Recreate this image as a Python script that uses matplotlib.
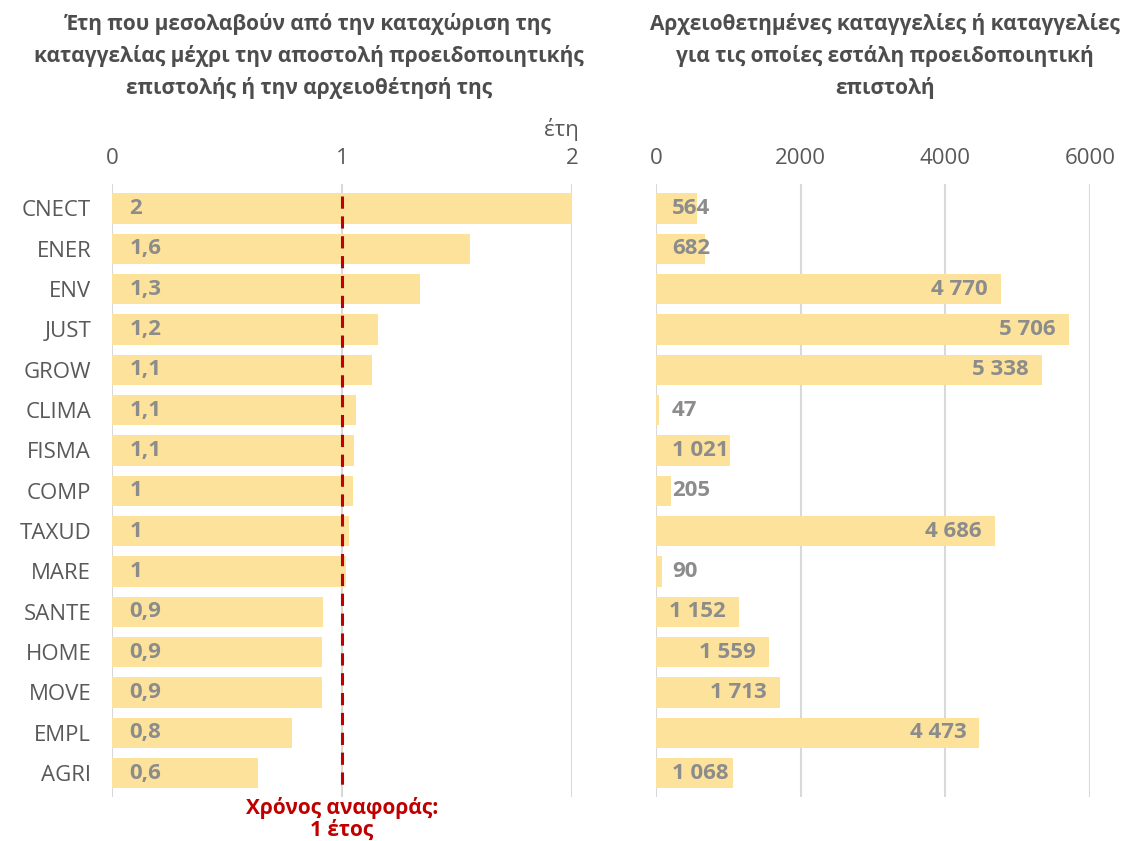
import matplotlib
matplotlib.use("Agg")
import matplotlib.pyplot as plt

plt.rcParams['font.family'] = ['Open Sans', 'DejaVu Sans']

categories = ['CNECT', 'ENER', 'ENV', 'JUST', 'GROW', 'CLIMA', 'FISMA', 'COMP',
              'TAXUD', 'MARE', 'SANTE', 'HOME', 'MOVE', 'EMPL', 'AGRI']
years = [2.0, 1.556, 1.339, 1.157, 1.13, 1.06, 1.052, 1.048, 1.03, 1.017,
         0.917, 0.913, 0.913, 0.783, 0.635]
years_labels = ['2', '1,6', '1,3', '1,2', '1,1', '1,1', '1,1', '1', '1', '1',
                '0,9', '0,9', '0,9', '0,8', '0,6']
cases = [564, 682, 4770, 5706, 5338, 47, 1021, 205, 4686, 90, 1152, 1559, 1713, 4473, 1068]

bar_col = '#FCE29B'
lab_col = '#8C8C8C'
txt_col = '#595959'
grid_col = '#D9D9D9'
red = '#C00000'
fs = 16

fig = plt.figure(figsize=(11.27, 8.41), dpi=100)
ax1 = fig.add_axes([0.0994, 0.052, 0.408, 0.729])
ax2 = fig.add_axes([0.582, 0.052, 0.385, 0.729])

ypos = list(range(len(categories)))

for ax in (ax1, ax2):
    ax.set_ylim(14.6, -0.6)
    for s in ax.spines.values():
        s.set_visible(False)
    ax.xaxis.tick_top()
    ax.tick_params(axis='x', length=0, pad=11, labelsize=fs, labelcolor=txt_col)
    ax.tick_params(axis='y', length=0)
    ax.grid(axis='x', color=grid_col, linewidth=1.5)
    ax.set_axisbelow(True)

# left panel
ax1.barh(ypos, years, height=0.75, color=bar_col)
ax1.set_xlim(0, 2)
ax1.set_xticks([0, 1, 2])
ax1.set_yticks(ypos)
ax1.set_yticklabels(categories, fontsize=fs, color=txt_col)
ax1.tick_params(axis='y', pad=15)
for y, lab in zip(ypos, years_labels):
    ax1.text(0.075, y, lab, ha='left', va='center', fontsize=fs,
             fontweight='bold', color=lab_col)
ax1.plot([1, 1], [-0.3, 14.3], color=red, linestyle=(0, (4, 2.5)), linewidth=2.2)
ax1.text(1, 14.6, 'Χρόνος αναφοράς:\n1 έτος', ha='center', va='top',
         fontsize=15, fontweight='bold', color=red, linespacing=1.05)
ax1.text(2.03, -1.95, 'έτη', ha='right', va='center', fontsize=fs, color=txt_col)

# titles
fig.text(0.274, 0.985,
         'Έτη που μεσολαβούν από την καταχώριση της\n'
         'καταγγελίας μέχρι την αποστολή προειδοποιητικής\n'
         'επιστολής ή την αρχειοθέτησή της',
         ha='center', va='top', fontsize=15, fontweight='bold',
         color='#4D4D4D', linespacing=1.6)
fig.text(0.785, 0.985,
         'Αρχειοθετημένες καταγγελίες ή καταγγελίες\n'
         'για τις οποίες εστάλη προειδοποιητική\n'
         'επιστολή',
         ha='center', va='top', fontsize=15, fontweight='bold',
         color='#4D4D4D', linespacing=1.6)

# right panel
ax2.barh(ypos, cases, height=0.75, color=bar_col)
ax2.set_xlim(0, 6000)
ax2.set_xticks([0, 2000, 4000, 6000])
ax2.set_yticks([])
for y, v in zip(ypos, cases):
    lab = f'{v:,}'.replace(',', ' ')
    if v < 1100:
        ax2.text(220, y, lab, ha='left', va='center', fontsize=fs,
                 fontweight='bold', color=lab_col)
    else:
        ax2.text(v - 180, y, lab, ha='right', va='center', fontsize=fs,
                 fontweight='bold', color=lab_col)

fig.savefig('out.png', dpi=100)
